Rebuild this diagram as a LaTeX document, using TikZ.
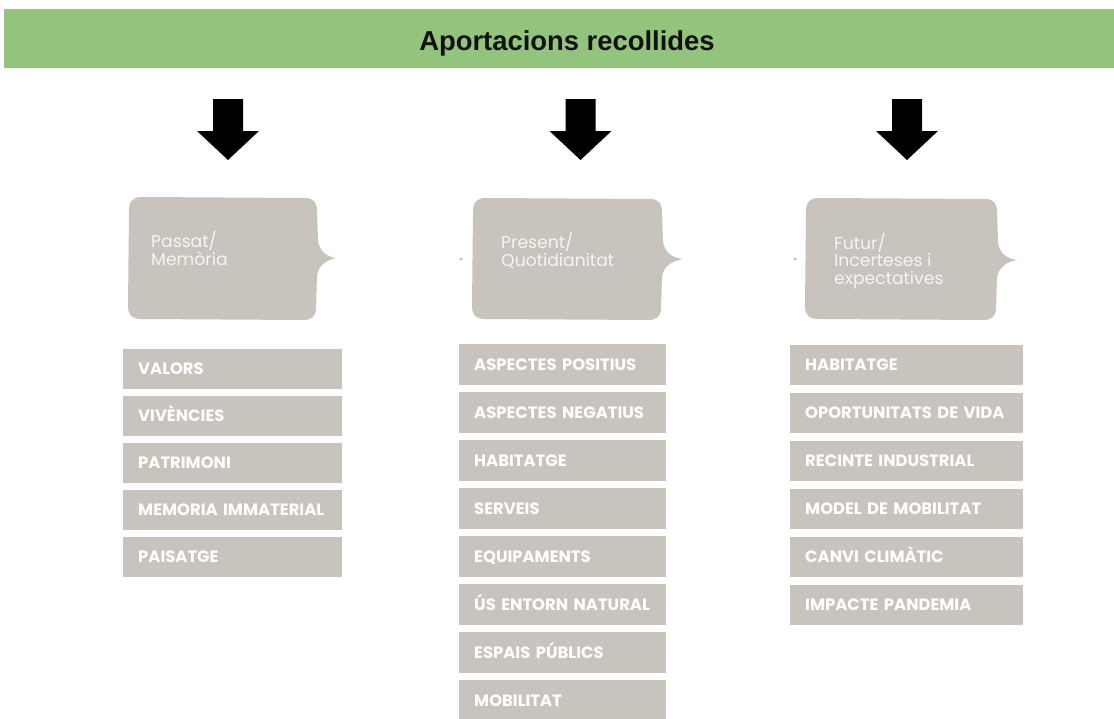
\documentclass[tikz,border=0pt]{standalone}
\usepackage{fontspec}
\setmainfont{Liberation Sans}
\newfontfamily\popfont{Poppins}
\definecolor{band}{RGB}{147,196,125}
\definecolor{stone}{RGB}{201,195,189}
\definecolor{paper}{RGB}{246,244,241}
\definecolor{dotgray}{RGB}{190,185,180}
\definecolor{ink}{RGB}{17,17,17}
\newcommand\bubbleshape[6]{%
  \fill[stone] (#1+14,#3) -- (#2-12,#3+1)
    .. controls (#2-3,#3+1) and (#2,#3+6) .. (#2,#3+14)
    -- (#2+1,#6-18) .. controls (#2+2,#6-7) and (#2+10,#6-1) .. (#5,#6)
    .. controls (#2+9,#6+2) and (#2+1,#6+8) .. (#2,#6+18)
    -- (#2-1,#4-12) .. controls (#2-1,#4-3) and (#2-6,#4) .. (#2-14,#4)
    -- (#1+14,#4-1) .. controls (#1+4,#4-1) and (#1,#4-5) .. (#1,#4-14)
    -- (#1+1,#3+14) .. controls (#1+1,#3+4) and (#1+5,#3) .. (#1+14,#3) -- cycle;}
\newcommand\blockarrow[1]{%
  \fill[black] (#1-15,99) -- (#1+15,99) -- (#1+15,131) -- (#1+31,131)
    -- (#1,160) -- (#1-31,131) -- (#1-15,131) -- cycle;}
\begin{document}
\begin{tikzpicture}[x=1pt,y=-1pt,
  itembox/.style={fill=stone, anchor=north west, inner xsep=15pt, inner ysep=0pt,
    minimum height=40pt, text=white, align=left, text height=11.5pt, text depth=0pt,
    font=\popfont\bfseries\fontsize{16.4}{17}\selectfont},
  bubtext/.style={anchor=north west, inner sep=0pt, align=left, text=paper,
    font=\popfont\fontsize{17.2}{18.5}\selectfont},
  bandbox/.style={fill=band, anchor=north west, inner sep=0pt,
    minimum width=1110pt, minimum height=59pt},
  titletext/.style={anchor=base, inner sep=0pt, font=\bfseries\fontsize{27.4}{30}\selectfont, text=ink}]
\useasboundingbox (0,0) rectangle (1114,718);
\fill[white] (0,0) rectangle (1114,718);
% banner
\node[bandbox] (banner) at (4,9) {};
\node[titletext] (title) at (567,50) {Aportacions recollides};
% arrows
\blockarrow{228}
\blockarrow{580.5}
\blockarrow{907}
% bubbles
\bubbleshape{128}{317}{197}{320}{336}{258}
\bubbleshape{472}{662}{198}{320}{683}{259}
\bubbleshape{805}{997}{198}{320}{1017}{260}
\fill[dotgray] (461,259) circle (1.5);
\fill[dotgray] (795,259) circle (1.5);
\node[bubtext] (b1) at (151,231) {Passat/\\Memòria};
\node[bubtext] (b2) at (501,232) {Present/\\Quotidianitat};
\node[bubtext, font=\popfont\fontsize{17.2}{17.5}\selectfont] (b3) at (834,233) {Futur/\\Incerteses i\\expectatives};
% lists
\foreach \t [count=\i from 0] in {VALORS,VIVÈNCIES,PATRIMONI,MEMORIA IMMATERIAL,PAISATGE}
  \node[itembox, text width=189pt] (p\i) at (123,349+47*\i) {\t};
\foreach \t [count=\i from 0] in {ASPECTES POSITIUS,ASPECTES NEGATIUS,HABITATGE,SERVEIS,EQUIPAMENTS,ÚS ENTORN NATURAL,ESPAIS PÚBLICS,MOBILITAT}
  \node[itembox, text width=177pt, minimum height=41pt] (q\i) at (459,344+48*\i) {\t};
\foreach \t [count=\i from 0] in {HABITATGE,OPORTUNITATS DE VIDA,RECINTE INDUSTRIAL,MODEL DE MOBILITAT,CANVI CLIMÀTIC,IMPACTE PANDEMIA}
  \node[itembox, text width=203pt] (f\i) at (790,345+48*\i) {\t};
\end{tikzpicture}
\end{document}
